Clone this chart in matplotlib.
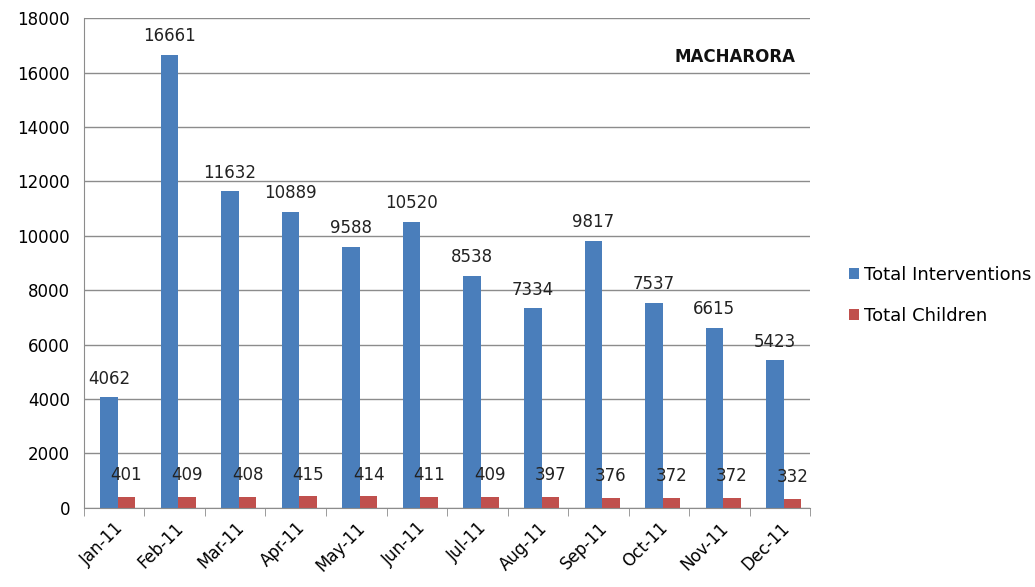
import matplotlib.pyplot as plt
import numpy as np

plt.rcParams['font.family'] = ['DejaVu Sans']

months = ['Jan-11', 'Feb-11', 'Mar-11', 'Apr-11', 'May-11', 'Jun-11',
          'Jul-11', 'Aug-11', 'Sep-11', 'Oct-11', 'Nov-11', 'Dec-11']
interventions = [4062, 16661, 11632, 10889, 9588, 10520,
                 8538, 7334, 9817, 7537, 6615, 5423]
children = [401, 409, 408, 415, 414, 411, 409, 397, 376, 372, 372, 332]

blue = '#4a7ebb'
red = '#c0504d'

fig = plt.figure(figsize=(10.35, 5.87), dpi=100)
ax = fig.add_axes([0.081, 0.135, 0.702, 0.834])

x = np.arange(len(months))
w = 0.29
b1 = ax.bar(x - w / 2 + 0.06, interventions, w, color=blue, label='Total Interventions')
b2 = ax.bar(x + w / 2 + 0.06, children, w, color=red, label='Total Children')

for rect, v in zip(b1, interventions):
    ax.annotate(str(v), (rect.get_x() + rect.get_width() / 2, v), xytext=(0, 7),
                textcoords='offset points', ha='center', va='bottom', fontsize=12, color='#222222')
for rect, v in zip(b2, children):
    ax.annotate(str(v), (rect.get_x() + rect.get_width() / 2, v), xytext=(0, 9),
                textcoords='offset points', ha='center', va='bottom', fontsize=12, color='#222222')

ax.set_xlim(-0.5, len(months) - 0.5)
ax.set_ylim(0, 18000)
ax.set_yticks(range(0, 18001, 2000))
ax.yaxis.grid(True, color='#8c8c8c', linewidth=1)
ax.set_axisbelow(True)

ax.set_xticks(x)
ax.set_xticklabels(months, rotation=45, ha='right', rotation_mode='anchor', fontsize=12)
ax.set_xticks(np.arange(-0.5, len(months), 1), minor=True)
ax.tick_params(axis='x', which='major', length=0, pad=8)
ax.tick_params(axis='x', which='minor', length=6, color='#8c8c8c')
ax.tick_params(axis='y', length=0, labelsize=12, pad=10)

for s in ['top', 'right']:
    ax.spines[s].set_visible(False)
ax.spines['left'].set_color('#8c8c8c')
ax.spines['bottom'].set_color('#8c8c8c')

ax.text(0.979, 0.92, 'MACHARORA', transform=ax.transAxes, ha='right', va='center',
        fontsize=12, fontweight='bold', color='#111111')

fig.legend(handles=[b1, b2], loc='center left', bbox_to_anchor=(0.812, 0.497),
           frameon=False, fontsize=13, handlelength=0.55, handleheight=0.55,
           handletextpad=0.25, labelspacing=1.3, borderpad=0)

fig.savefig('out.png', dpi=100)
